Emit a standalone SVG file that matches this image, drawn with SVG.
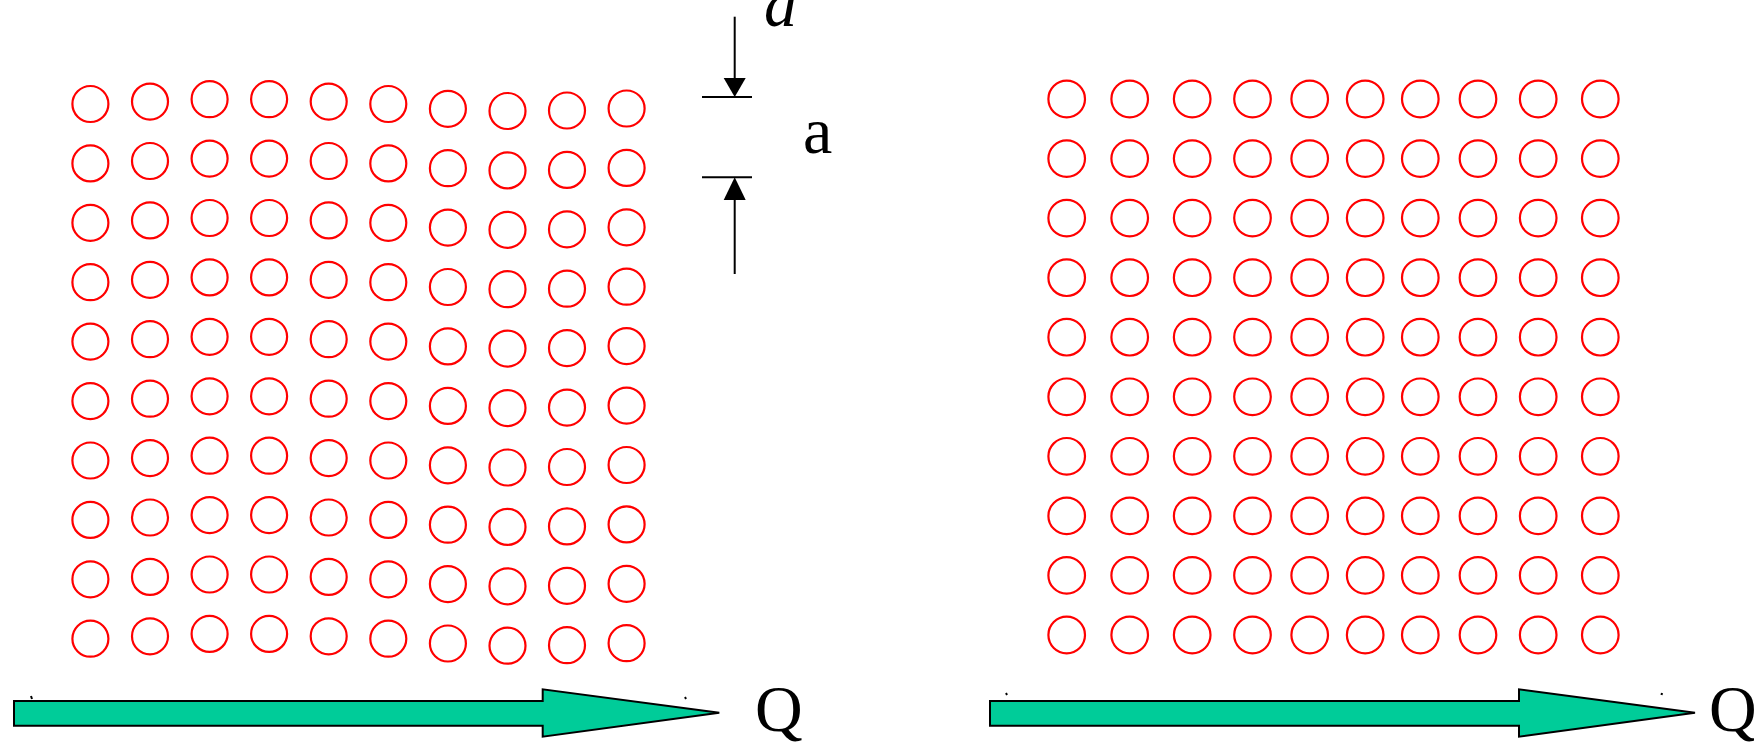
<svg xmlns="http://www.w3.org/2000/svg" xmlns:xlink="http://www.w3.org/1999/xlink" width="1754" height="744" viewBox="0 0 1754 744">
<style>
.h{fill:none;stroke:#ff0000;stroke-width:2.2}
.dim{stroke:#000;stroke-width:2;fill:none}
.ah{fill:#000;stroke:none}
.flow{fill:#00cc99;stroke:#000;stroke-width:2;stroke-linejoin:miter}
.t{font-family:"Liberation Serif","Times New Roman",serif;font-size:66px;fill:#000}
.mk{stroke:#000;stroke-width:2}
</style>
<defs>
<g id="rowL">
<circle class="h" cx="90.4" cy="0" r="18"/>
<circle class="h" cx="150.0" cy="-2.4" r="18"/>
<circle class="h" cx="209.6" cy="-4.8" r="18"/>
<circle class="h" cx="269.1" cy="-4.8" r="18"/>
<circle class="h" cx="328.7" cy="-2.4" r="18"/>
<circle class="h" cx="388.3" cy="0" r="18"/>
<circle class="h" cx="447.9" cy="4.8" r="18"/>
<circle class="h" cx="507.5" cy="7" r="18"/>
<circle class="h" cx="567.0" cy="6.5" r="18"/>
<circle class="h" cx="626.6" cy="4.5" r="18"/>
</g>
<g id="rowR">
<circle class="h" cx="1066.7" cy="0" r="18.3"/>
<circle class="h" cx="1129.7" cy="0" r="18.3"/>
<circle class="h" cx="1192.2" cy="0" r="18.3"/>
<circle class="h" cx="1252.5" cy="0" r="18.3"/>
<circle class="h" cx="1309.7" cy="0" r="18.3"/>
<circle class="h" cx="1365.2" cy="0" r="18.3"/>
<circle class="h" cx="1420.3" cy="0" r="18.3"/>
<circle class="h" cx="1478.0" cy="0" r="18.3"/>
<circle class="h" cx="1538.2" cy="0" r="18.3"/>
<circle class="h" cx="1600.3" cy="0" r="18.3"/>
</g>
</defs>
<rect width="1754" height="744" fill="#fff"/>
<g id="gridLeft">
<use xlink:href="#rowL" y="104"/>
<use xlink:href="#rowL" y="163.4"/>
<use xlink:href="#rowL" y="222.8"/>
<use xlink:href="#rowL" y="282.2"/>
<use xlink:href="#rowL" y="341.6"/>
<use xlink:href="#rowL" y="401.1"/>
<use xlink:href="#rowL" y="460.5"/>
<use xlink:href="#rowL" y="519.9"/>
<use xlink:href="#rowL" y="579.3"/>
<use xlink:href="#rowL" y="638.7"/>
</g>
<g id="gridRight">
<use xlink:href="#rowR" y="99"/>
<use xlink:href="#rowR" y="158.6"/>
<use xlink:href="#rowR" y="218.1"/>
<use xlink:href="#rowR" y="277.7"/>
<use xlink:href="#rowR" y="337.2"/>
<use xlink:href="#rowR" y="396.8"/>
<use xlink:href="#rowR" y="456.3"/>
<use xlink:href="#rowR" y="515.9"/>
<use xlink:href="#rowR" y="575.4"/>
<use xlink:href="#rowR" y="635"/>
</g>
<g id="dimension">
<line class="dim" x1="734.7" y1="16.7" x2="734.7" y2="80"/>
<polygon class="ah" points="723.7,78 745.7,78 734.7,97"/>
<line class="dim" x1="702" y1="97" x2="752" y2="97"/>
<line class="dim" x1="702" y1="177.3" x2="752" y2="177.3"/>
<polygon class="ah" points="723.7,200 745.7,200 734.7,177.3"/>
<line class="dim" x1="734.7" y1="198" x2="734.7" y2="274"/>
<text class="t" x="764" y="26" font-style="italic">d</text>
<text class="t" x="803" y="153">a</text>
</g>
<g id="connectors">
<g id="flowLeft">
<polygon class="flow" points="14,701 542.7,701 542.7,689.3 719.3,712.7 542.7,736.7 542.7,725.7 14,725.7"/>
<line class="mk" x1="31" y1="696" x2="32" y2="699"/>
<line class="mk" x1="685" y1="697" x2="686" y2="699"/>
<text class="t" x="755" y="731">Q</text>
</g>
<g id="flowRight">
<polygon class="flow" points="990,701 1519,701 1519,689.3 1695,712.7 1519,736.7 1519,725.7 990,725.7"/>
<line class="mk" x1="1006" y1="693" x2="1007" y2="695"/>
<line class="mk" x1="1662" y1="693" x2="1661.5" y2="695"/>
<text class="t" x="1709" y="731">Q</text>
</g>
</g>
</svg>
